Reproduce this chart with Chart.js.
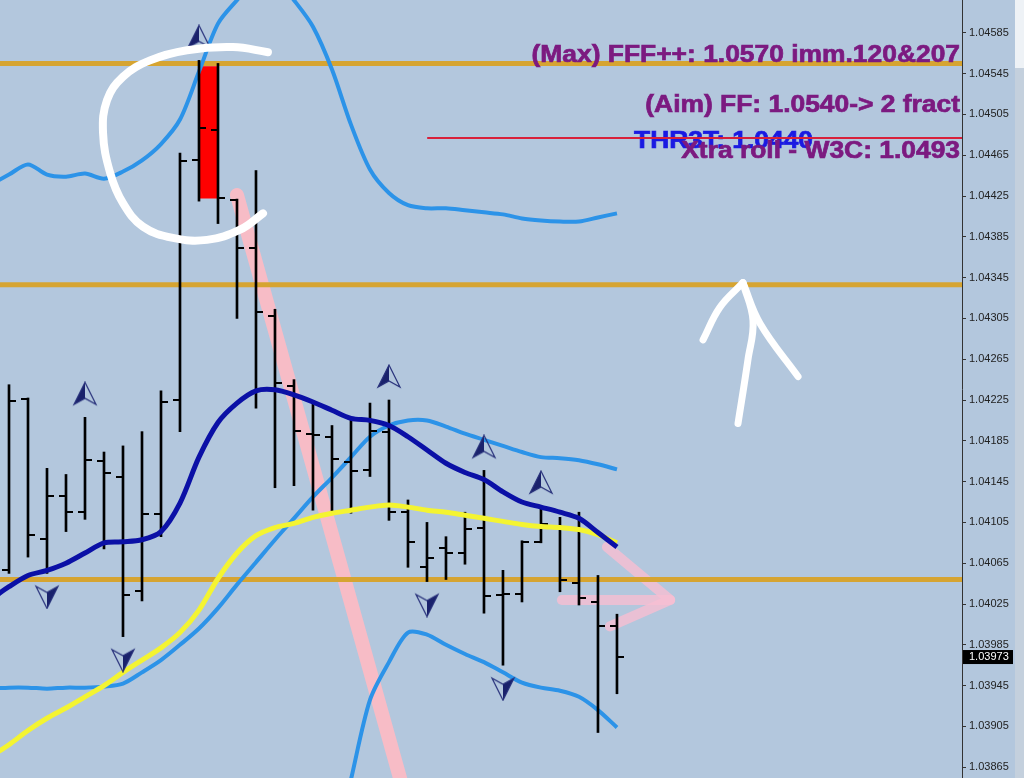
<!DOCTYPE html>
<html>
<head>
<meta charset="utf-8">
<script src="https://cdn.jsdelivr.net/npm/chart.js@4.4.1/dist/chart.umd.min.js"></script>
<style>
  html, body { margin: 0; padding: 0; background: #b3c7dd; }
</style>
</head>
<body>
<canvas id="js--chart" width="1024" height="778"></canvas>
<script>
// bar 0 is the first fully visible bar; the indicator lines start one bar earlier (-1)
const opens = [1.04058, 1.04226, 1.04089, 1.04131, 1.04115, 1.04165, 1.04150, 1.04038, 1.04113, 1.04225, 1.04460, 1.04490, 1.04421, 1.04374, 1.04307, 1.04239, 1.04192, 1.04189, 1.04164, 1.04156, 1.04194, 1.04115, 1.04061, 1.04080, 1.04075, 1.04100, 1.04034, 1.04035, 1.04086, 1.04101, 1.04046, 1.04027, 1.04003];
const highs = [1.04240, 1.04227, 1.04158, 1.04152, 1.04208, 1.04174, 1.04180, 1.04194, 1.04234, 1.04467, 1.04558, 1.04555, 1.04422, 1.04450, 1.04314, 1.04245, 1.04223, 1.04200, 1.04206, 1.04222, 1.04225, 1.04127, 1.04105, 1.04091, 1.04115, 1.04156, 1.04058, 1.04087, 1.04121, 1.04110, 1.04115, 1.04053, 1.04015];
const lows = [1.04055, 1.04071, 1.04055, 1.04096, 1.04108, 1.04079, 1.03993, 1.04028, 1.04091, 1.04194, 1.04420, 1.04398, 1.04305, 1.04217, 1.04139, 1.04141, 1.04117, 1.04115, 1.04114, 1.04150, 1.04107, 1.04061, 1.04047, 1.04049, 1.04064, 1.04016, 1.03965, 1.04027, 1.04085, 1.04037, 1.04024, 1.03899, 1.03937];
const closes = [1.04224, 1.04093, 1.04131, 1.04115, 1.04166, 1.04153, 1.04034, 1.04113, 1.04223, 1.04459, 1.04492, 1.04423, 1.04374, 1.04311, 1.04242, 1.04195, 1.04191, 1.04167, 1.04155, 1.04195, 1.04115, 1.04086, 1.04070, 1.04075, 1.04099, 1.04033, 1.04035, 1.04086, 1.04103, 1.04049, 1.04031, 1.04003, 1.03973];

const fastMa = [1.04029, 1.04042, 1.04053, 1.04058, 1.04065, 1.04075, 1.04085, 1.04086, 1.04088, 1.04096, 1.04124, 1.04169, 1.04203, 1.04222, 1.04234, 1.04235, 1.04230, 1.04223, 1.04215, 1.04207, 1.04205, 1.04200, 1.04189, 1.04176, 1.04163, 1.04154, 1.04147, 1.04135, 1.04125, 1.04120, 1.04115, 1.04109, 1.04095, 1.04081];
const slowMa = [1.03875, 1.03887, 1.03901, 1.03913, 1.03923, 1.03934, 1.03945, 1.03958, 1.03970, 1.03982, 1.03997, 1.04019, 1.04050, 1.04075, 1.04092, 1.04100, 1.04104, 1.04110, 1.04114, 1.04117, 1.04120, 1.04122, 1.04120, 1.04117, 1.04115, 1.04112, 1.04109, 1.04106, 1.04103, 1.04101, 1.04100, 1.04098, 1.04093, 1.04085];
const bandUpper = [1.04436, 1.04446, 1.04456, 1.04446, 1.04444, 1.04447, 1.04442, 1.04449, 1.04460, 1.04476, 1.04500, 1.04547, 1.04594, 1.04617, 1.04637, 1.04639, 1.04617, 1.04591, 1.04549, 1.04495, 1.04451, 1.04428, 1.04416, 1.04413, 1.04413, 1.04411, 1.04409, 1.04407, 1.04403, 1.04401, 1.04400, 1.04400, 1.04404, 1.04408];
const bandMiddle = [1.03942, 1.03943, 1.03943, 1.03942, 1.03943, 1.03943, 1.03944, 1.03947, 1.03958, 1.03970, 1.03985, 1.04001, 1.04021, 1.04044, 1.04066, 1.04088, 1.04109, 1.04130, 1.04149, 1.04169, 1.04189, 1.04200, 1.04205, 1.04205, 1.04199, 1.04192, 1.04186, 1.04180, 1.04174, 1.04169, 1.04168, 1.04166, 1.04162, 1.04157];
const bandLower = [null, null, null, null, null, null, null, null, null, null, null, null, null, null, null, null, null, 1.03700, 1.03774, 1.03853, 1.03931, 1.03968, 1.03997, 1.03995, 1.03985, 1.03976, 1.03968, 1.03958, 1.03948, 1.03943, 1.03940, 1.03934, 1.03921, 1.03904];

const fractalUpBars = [4, 10, 20, 25, 28];
const fractalDownBars = [2, 6, 22, 26];

const tickValues = [1.04585, 1.04545, 1.04505, 1.04465, 1.04425, 1.04385, 1.04345, 1.04305, 1.04265, 1.04225, 1.04185, 1.04145, 1.04105, 1.04065, 1.04025, 1.03985, 1.03945, 1.03905, 1.03865];

// drawn objects on the chart (price levels, boxes, hand strokes)
const levels = [1.04555, 1.04338, 1.04049];
const redLine = [[22.05, 1.04482], [51, 1.04482]];
const highlightBox = [1.04423, 1.04552];
const circleStroke = [[13.63, 1.04566], [11.79, 1.04571], [9.37, 1.04568], [7.42, 1.04558], [6.0, 1.04542], [5.16, 1.04519], [4.95, 1.04487], [5.32, 1.04448], [6.0, 1.04418], [7.05, 1.04395], [8.63, 1.04384], [10.42, 1.04382], [12.16, 1.04392], [13.37, 1.04408]];
const arrowShaft = [[38.37, 1.04202], [38.89, 1.04264], [39.16, 1.04303], [38.63, 1.04340]];
const arrowLeft = [[36.53, 1.04284], [37.42, 1.04316], [38.63, 1.04340]];
const arrowRight = [[38.63, 1.04340], [39.53, 1.04300], [41.53, 1.04248]];
const pinkTrend = [[12.0, 1.04426], [20.9, 1.03833]];
const pinkShaft = [[29.1, 1.04029], [34.8, 1.04029]];
const pinkHead = [[31.47, 1.04081], [34.8, 1.04029], [31.63, 1.04003]];

const textMax = "(Max) FFF++: 1.0570 imm.120&207";
const textAim = "(Aim) FF: 1.0540-> 2 fract";
const textThreat = "THR3T: 1.0440";
const textRoll = "Xtra roll - W3C: 1.0493";

function toPoints(values, start) {
  return values.map(function (v, i) { return { x: i + start, y: v }; });
}
function pairPoints(pairs) {
  return pairs.map(function (p) { return { x: p[0], y: p[1] }; });
}

function makeTick(side) {
  const c = document.createElement("canvas");
  c.width = 14;
  c.height = 2;
  const g = c.getContext("2d");
  g.fillStyle = "#000";
  if (side === "left") g.fillRect(0, 0, 7, 2);
  else g.fillRect(7, 0, 7, 2);
  return c;
}

function makeFractal(up) {
  const c = document.createElement("canvas");
  c.width = 26;
  c.height = 72;
  const g = c.getContext("2d");
  const tipY = up ? 1 : 71, wingY = up ? 23 : 49, notchY = up ? 17 : 55;
  g.fillStyle = "#1a226c";
  g.beginPath();
  g.moveTo(13, tipY);
  g.lineTo(up ? 2 : 24, wingY);
  g.lineTo(13, notchY);
  g.closePath();
  g.fill();
  g.strokeStyle = "#27307a";
  g.lineWidth = 1.2;
  g.beginPath();
  g.moveTo(13, tipY);
  g.lineTo(2, wingY);
  g.lineTo(13, notchY);
  g.lineTo(24, wingY);
  g.closePath();
  g.stroke();
  return c;
}

function strokeSet(points, color, width, order) {
  return {
    type: "line",
    data: pairPoints(points),
    borderColor: color,
    borderWidth: width,
    borderCapStyle: "round",
    borderJoinStyle: "round",
    tension: 0.4,
    pointRadius: 0,
    order: order,
  };
}

function lineSet(values, color, width, order) {
  return {
    type: "line",
    data: toPoints(values, -1),
    borderColor: color,
    borderWidth: width,
    tension: 0.3,
    pointRadius: 0,
    order: order,
  };
}

const datasets = [
  strokeSet(circleStroke, "#ffffff", 8, 0),
  strokeSet(arrowShaft, "#ffffff", 7, 0),
  strokeSet(arrowLeft, "#ffffff", 7, 0),
  strokeSet(arrowRight, "#ffffff", 7, 0),
  {
    type: "scatter",
    data: fractalUpBars.map(function (i) { return { x: i, y: highs[i] }; }),
    pointStyle: makeFractal(true),
    pointRadius: 5,
    order: 1,
  },
  {
    type: "scatter",
    data: fractalDownBars.map(function (i) { return { x: i, y: lows[i] }; }),
    pointStyle: makeFractal(false),
    pointRadius: 5,
    order: 1,
  },
  lineSet(fastMa, "#0b10a6", 5, 2),
  lineSet(slowMa, "#f4f431", 5, 3),
  {
    type: "scatter",
    data: toPoints(opens, 0),
    pointStyle: makeTick("left"),
    pointRadius: 3,
    order: 4,
  },
  {
    type: "scatter",
    data: toPoints(closes, 0),
    pointStyle: makeTick("right"),
    pointRadius: 3,
    order: 4,
  },
  {
    type: "bar",
    data: highs.map(function (h, i) { return { x: i, y: [lows[i], h] }; }),
    backgroundColor: "#000",
    barThickness: 2,
    grouped: false,
    order: 4,
  },
  lineSet(bandUpper, "#2c93e8", 4, 5),
  lineSet(bandMiddle, "#2c93e8", 4, 5),
  lineSet(bandLower, "#2c93e8", 4, 5),
  strokeSet(redLine, "#d8203a", 2, 6),
];

levels.forEach(function (lv) {
  datasets.push({
    type: "line",
    data: [{ x: -1, y: lv }, { x: 51, y: lv }],
    borderColor: "#d6a431",
    borderWidth: 5,
    pointRadius: 0,
    order: 7,
  });
});

datasets.push(strokeSet(pinkTrend, "#f7bcc6", 14, 8));
datasets.push(strokeSet(pinkShaft, "rgba(247,190,210,0.8)", 10, 8));
datasets.push(Object.assign(strokeSet(pinkHead, "rgba(247,190,210,0.8)", 10, 8), { tension: 0 }));
datasets.push({
  type: "bar",
  data: [{ x: 10.5, y: highlightBox }],
  backgroundColor: "#ff0000",
  barThickness: 19,
  grouped: false,
  order: 9,
});

function wideText(ctx, s, x, y, color) {
  ctx.save();
  ctx.translate(x, y);
  ctx.scale(1.1, 1);
  ctx.fillStyle = color;
  ctx.strokeStyle = color;
  ctx.lineWidth = 0.7;
  ctx.fillText(s, 0, 0);
  ctx.strokeText(s, 0, 0);
  ctx.restore();
}

const chartDecor = {
  id: "chartDecor",
  beforeDraw: function (chart) {
    const ctx = chart.ctx;
    ctx.save();
    ctx.fillStyle = "#b3c7dd";
    ctx.fillRect(0, 0, chart.width, chart.height);
    ctx.fillStyle = "#c4d0dd";
    ctx.fillRect(1015, 0, 9, chart.height);
    ctx.fillStyle = "#eef2f6";
    ctx.fillRect(1015, 0, 9, 68);
    ctx.restore();
  },
  beforeDatasetsDraw: function (chart) {
    const ctx = chart.ctx;
    ctx.save();
    ctx.font = 'bold 24px "Liberation Sans"';
    ctx.textAlign = "left";
    wideText(ctx, textThreat, 634, 148, "#1a1ae2");
    ctx.restore();
  },
  afterDatasetsDraw: function (chart) {
    const ctx = chart.ctx;
    const right = chart.chartArea.right - 2;
    ctx.save();
    ctx.font = 'bold 24px "Liberation Sans"';
    ctx.textAlign = "right";
    wideText(ctx, textMax, right, 62, "#7c1a80");
    wideText(ctx, textAim, right, 112, "#7c1a80");
    wideText(ctx, textRoll, right, 158, "#7c1a80");
    ctx.restore();
  },
  afterDraw: function (chart) {
    const ctx = chart.ctx;
    const last = closes[closes.length - 1];
    const y = chart.scales.y.getPixelForValue(last);
    const x = chart.chartArea.right + 1;
    ctx.save();
    ctx.fillStyle = "#000";
    ctx.fillRect(x, y - 7, 50, 14);
    ctx.fillStyle = "#fff";
    ctx.font = '11px "Liberation Sans"';
    ctx.textBaseline = "middle";
    ctx.fillText(last.toFixed(5), x + 6, y);
    ctx.restore();
  },
};

const config = {
  type: "bar",
  data: { datasets: datasets },
  options: {
    responsive: false,
    animation: false,
    events: [],
    layout: { padding: 0, autoPadding: false },
    plugins: { legend: { display: false }, tooltip: { enabled: false } },
    scales: {
      x: { type: "linear", display: false, min: -0.4737, max: 50.16, offset: false },
      y: {
        position: "right",
        min: 1.038544,
        max: 1.046172,
        afterBuildTicks: function (axis) {
          axis.ticks = tickValues.map(function (v) { return { value: v }; });
        },
        afterFit: function (axis) {
          axis.width = 62;
          axis.paddingTop = 0;
          axis.paddingBottom = 0;
        },
        ticks: {
          autoSkip: false,
          padding: 3,
          color: "#222",
          font: { size: 11, family: "Liberation Sans" },
          callback: function (v) { return Number(v).toFixed(5); },
        },
        grid: { drawOnChartArea: false, drawTicks: true, tickLength: 4, color: "#333" },
        border: { color: "#333", width: 1 },
      },
    },
  },
  plugins: [chartDecor],
};

new Chart(document.getElementById("js--chart"), config);
</script>
</body>
</html>
